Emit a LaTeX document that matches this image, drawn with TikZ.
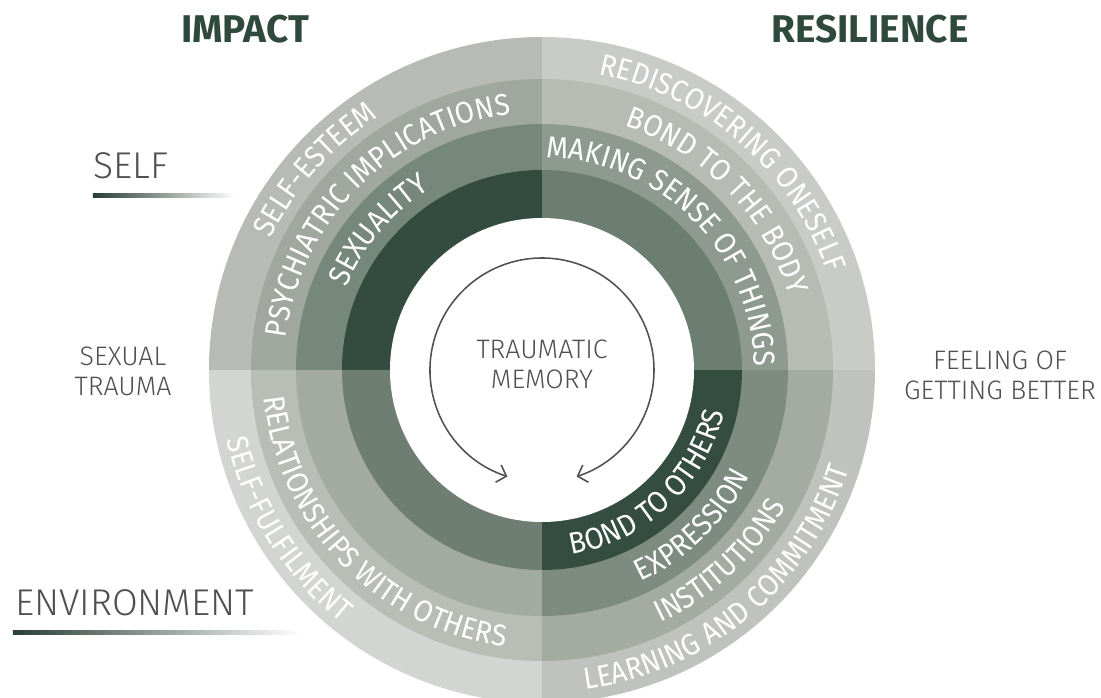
\documentclass[tikz,border=0pt]{standalone}
\usepackage{fontspec}
\setmainfont{Fira Sans Light}
\newfontfamily\headfont{Fira Sans}
\newfontfamily\ringfam{Fira Sans}[FakeStretch=0.92]
\usetikzlibrary{decorations.text,arrows.meta}

\definecolor{tl4}{HTML}{B8BBB5}
\definecolor{tl3}{HTML}{A0A79E}
\definecolor{tl2}{HTML}{76877B}
\definecolor{tl1}{HTML}{344B3F}
\definecolor{tr4}{HTML}{C9CBC7}
\definecolor{tr3}{HTML}{B6BBB4}
\definecolor{tr2}{HTML}{8E9A90}
\definecolor{tr1}{HTML}{6C7D71}
\definecolor{bl4}{HTML}{D3D5D2}
\definecolor{bl3}{HTML}{B8BDB6}
\definecolor{bl2}{HTML}{A2AAA1}
\definecolor{bl1}{HTML}{6E7E73}
\definecolor{br4}{HTML}{C0C3BD}
\definecolor{br3}{HTML}{A4ACA2}
\definecolor{br2}{HTML}{7D8B80}
\definecolor{br1}{HTML}{354D40}
\definecolor{headgreen}{HTML}{2F4A3C}
\definecolor{greytext}{HTML}{505050}

\newcommand{\ringfont}{\ringfam\fontsize{21.5}{23}\selectfont}

\begin{document}
\begin{tikzpicture}[
  >={Straight Barb[length=6pt,width=13pt]},
  ringtext/.style={decorate, decoration={text along path, text align=center,
    text color=white, text={|\ringfont|#1}}},
  side/.style={font=\fontsize{19}{21.5}\selectfont, text=greytext, align=center},
  head/.style={font=\headfont\bfseries\fontsize{27.5}{30}\selectfont, text=headgreen},
  part/.style={font=\fontsize{26.5}{30}\selectfont, text=greytext, anchor=base west, inner sep=0pt}]
  \useasboundingbox[fill=white] (-13.55,-8.175) rectangle (13.975,9.25);
  \clip (-13.55,-8.175) rectangle (13.975,9.25);
  \foreach \q/\s in {tr/0,tl/90,bl/180,br/270}
    \foreach \n/\r in {4/8.325,3/7.275,2/6.15,1/5}
      \fill[fill=\q\n] (0,0) -- (\s:\r) arc (\s:\s+90:\r) -- cycle;
  \fill[white] (0,0) circle (3.8);

  % impact, self
  \path[ringtext={SELF-ESTEEM}] (193.5:7.53) arc (193.5:83.5:7.53);
  \path[ringtext={PSYCHIATRIC IMPLICATIONS}] (190:6.45) arc (190:80:6.45);
  \path[ringtext={SEXUALITY}] (194.5:5.31) arc (194.5:84.5:5.31);
  % resilience, self
  \path[ringtext={REDISCOVERING ONESELF}] (104:7.53) arc (104:-6:7.53);
  \path[ringtext={BOND TO THE BODY}] (99:6.45) arc (99:-11:6.45);
  \path[ringtext={MAKING SENSE OF THINGS}] (100:5.31) arc (100:-10:5.31);
  % impact, environment
  \path[ringtext={SELF-FULFILMENT}] (157:8.07) arc (157:267:8.07);
  \path[ringtext={RELATIONSHIPS WITH OTHERS}] (169:6.98) arc (169:279:6.98);
  % resilience, environment
  \path[ringtext={LEARNING AND COMMITMENT}] (255:8.07) arc (255:365:8.07);
  \path[ringtext={INSTITUTIONS}] (258:6.98) arc (258:368:6.98);
  \path[ringtext={EXPRESSION}] (259:5.84) arc (259:369:5.84);
  \path[ringtext={BOND TO OTHERS}] (258:4.67) arc (258:368:4.67);

  \node[side] (memory) at (0,0.15) {TRAUMATIC\\MEMORY};
  \draw[greytext, line width=1.1pt, <->] (252:2.8) arc (252:-72:2.8);

  \node[head] (impact) at (-7.425,8.525) {IMPACT};
  \node[head] (resilience) at (8.2,8.525) {RESILIENCE};
  \node[side] (trauma) at (-10.475,-0.04) {SEXUAL\\TRAUMA};
  \node[side] (better) at (11.45,-0.125) {FEELING OF\\GETTING BETTER};

  \node[part] (self) at (-11.225,4.8) {SELF};
  \shade[left color=headgreen!85!black, right color=white]
    ([yshift=-0.375cm]self.base west) rectangle ++(3.55,-0.1);
  \node[part] (env) at (-13.175,-6.125) {ENVIRONMENT};
  \shade[left color=headgreen!85!black, right color=white]
    ([xshift=-0.05cm,yshift=-0.375cm]env.base west) rectangle ++(7.175,-0.1);
\end{tikzpicture}
\end{document}
